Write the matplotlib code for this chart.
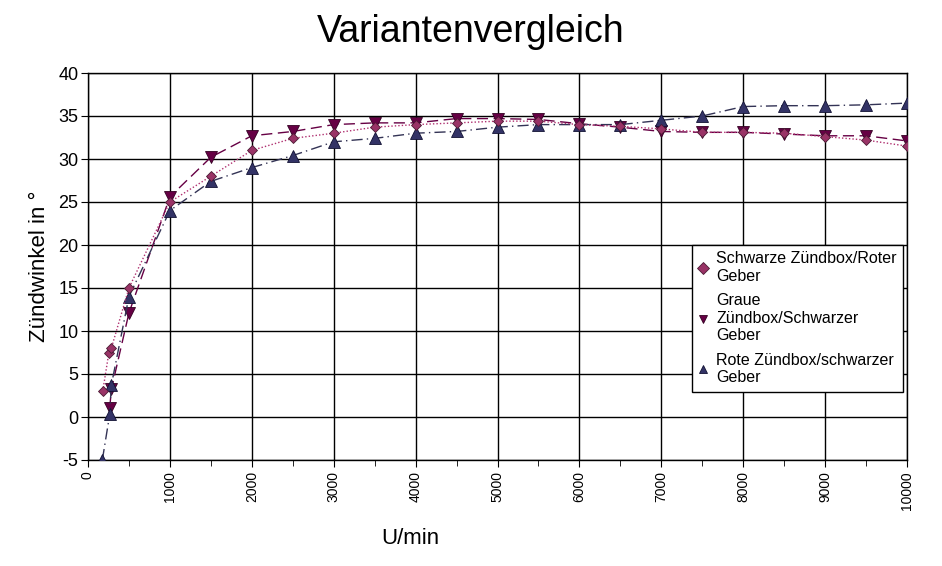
import matplotlib
matplotlib.use("Agg")
import matplotlib.pyplot as plt
from matplotlib.ticker import MultipleLocator

plt.rcParams['font.family'] = ['Liberation Sans', 'DejaVu Sans']

title = "Variantenvergleich"
xlabel = "U/min"
ylabel = "Zündwinkel in °"

labels = ["Schwarze Zündbox/Roter\nGeber",
          "Graue\nZündbox/Schwarzer\nGeber",
          "Rote Zündbox/schwarzer\nGeber"]

x1 = [180, 255, 285, 500, 1000, 1500, 2000, 2500, 3000, 3500, 4000, 4500, 5000,
      5500, 6000, 6500, 7000, 7500, 8000, 8500, 9000, 9500, 10000]
y1 = [3.0, 7.5, 8.0, 15.0, 25.0, 28.0, 31.0, 32.4, 33.0, 33.7, 34.0, 34.2, 34.4,
      34.4, 34.0, 33.8, 33.5, 33.1, 33.1, 33.0, 32.6, 32.2, 31.5]

x2 = [265, 285, 500, 1000, 1500, 2000, 2500, 3000, 3500, 4000, 4500, 5000,
      5500, 6000, 6500, 7000, 7500, 8000, 8500, 9000, 9500, 10000]
y2 = [1.0, 3.2, 12.1, 25.6, 30.2, 32.7, 33.2, 34.0, 34.2, 34.2, 34.7, 34.7,
      34.6, 34.1, 33.7, 33.2, 33.1, 33.1, 32.9, 32.7, 32.7, 32.1]

x3 = [175, 265, 285, 500, 1000, 1500, 2000, 2500, 3000, 3500, 4000, 4500, 5000,
      5500, 6000, 6500, 7000, 7500, 8000, 8500, 9000, 9500, 10000]
y3 = [-5.0, 0.3, 3.7, 14.0, 24.0, 27.4, 29.0, 30.4, 32.0, 32.4, 33.0, 33.2, 33.7,
      34.0, 34.0, 34.0, 34.5, 35.0, 36.1, 36.2, 36.2, 36.3, 36.5]

xticks = list(range(0, 10001, 1000))
yticks = list(range(-5, 41, 5))

fig = plt.figure(figsize=(9.42, 5.66), dpi=100)
ax = fig.add_axes([88/942, 1-460/566, (907-88)/942, (460-73)/566])

ax.plot(x1, y1, linestyle=(0, (1, 1.5)), color='#b03070', linewidth=1.0,
        marker='D', markersize=5, markerfacecolor='#993366', markeredgecolor='#4a1a33',
        markeredgewidth=0.6, label=labels[0], zorder=4)
ax.plot(x2, y2, linestyle=(0, (8, 4)), color='#660044', linewidth=1.0,
        marker='v', markersize=8, markerfacecolor='#660044', markeredgecolor='#330022',
        markeredgewidth=0.6, label=labels[1], zorder=3)
ax.plot(x3, y3, linestyle=(0, (8, 3, 1, 3)), color='#333355', linewidth=1.0,
        marker='^', markersize=8, markerfacecolor='#333366', markeredgecolor='#111133',
        markeredgewidth=0.6, label=labels[2], zorder=3)

ax.set_xlim(0, 10000)
ax.set_ylim(-5, 40)
ax.set_xticks(xticks)
ax.set_xticklabels([str(t) for t in xticks], rotation=90, fontsize=10)
ax.xaxis.set_minor_locator(MultipleLocator(500))
ax.set_yticks(yticks)
ax.set_yticklabels([str(t) for t in yticks], fontsize=13)
ax.tick_params(axis='both', which='both', direction='out', color='black')
ax.tick_params(axis='x', which='major', length=5, pad=3)
ax.tick_params(axis='x', which='minor', length=4)
ax.tick_params(axis='y', which='major', length=5, pad=2)
ax.grid(True, which='major', color='black', linewidth=1.0)
ax.set_axisbelow(True)
for s in ax.spines.values():
    s.set_color('black')
    s.set_linewidth(1.0)

fig.text(0.5, 1 - 32/566, title, fontsize=27, ha='center', va='center')
fig.text(410/942, 1 - 538/566, xlabel, fontsize=16, ha='center', va='center')
ax.set_ylabel(ylabel, fontsize=16, labelpad=6)

leg = ax.legend(loc='upper right', bbox_to_anchor=((903-88)/819, (460-245)/387),
                fontsize=11.5, frameon=True, fancybox=False, edgecolor='black',
                framealpha=1.0, borderpad=0.4, labelspacing=0.6, handlelength=0.6,
                handletextpad=0.5, borderaxespad=0.0)
leg.get_frame().set_linewidth(1.0)
for h in leg.legend_handles:
    h.set_linestyle('None')
    h.set_markersize(6)

fig.savefig("out.png", dpi=100)
